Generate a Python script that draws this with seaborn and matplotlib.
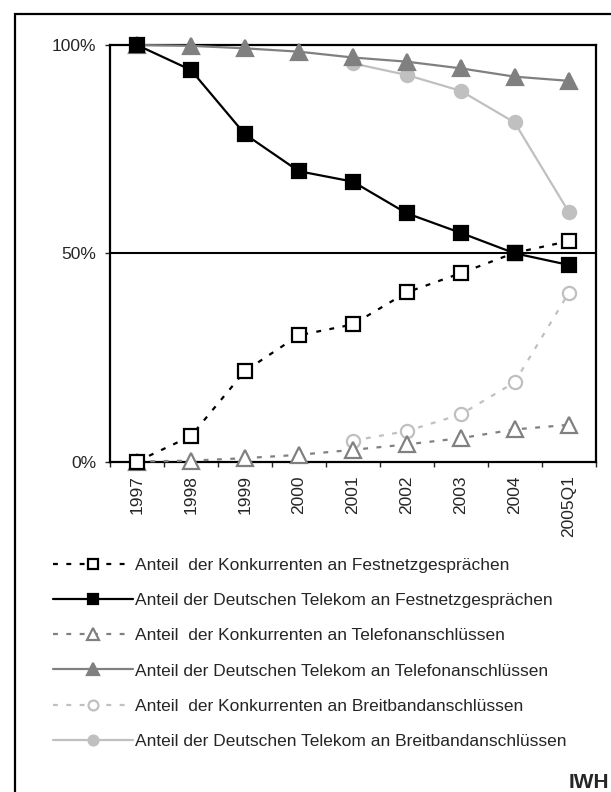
import numpy as np
import pandas as pd
import matplotlib
matplotlib.use('Agg')
import matplotlib.pyplot as plt
import seaborn as sns
from matplotlib.patches import Rectangle
from matplotlib.lines import Line2D

jahre = ['1997', '1998', '1999', '2000', '2001', '2002', '2003', '2004', '2005Q1']

konk_festnetz = [0, 6.1, 21.7, 30.3, 32.9, 40.6, 45.2, 50.1, 52.9]
dt_festnetz = [100, 94.0, 78.6, 69.7, 67.2, 59.6, 54.9, 50.0, 47.2]
konk_telefon = [0, 0.2, 0.8, 1.6, 2.8, 4.1, 5.6, 7.7, 8.8]
dt_telefon = [100, 99.8, 99.2, 98.4, 97.0, 96.0, 94.4, 92.4, 91.4]
konk_breitband = [np.nan, np.nan, np.nan, np.nan, 5.0, 7.3, 11.3, 19.0, 40.4]
dt_breitband = [np.nan, np.nan, np.nan, np.nan, 95.6, 92.8, 89.0, 81.4, 60.0]

labels = [
    'Anteil  der Konkurrenten an Festnetzgesprächen',
    'Anteil der Deutschen Telekom an Festnetzgesprächen',
    'Anteil  der Konkurrenten an Telefonanschlüssen',
    'Anteil der Deutschen Telekom an Telefonanschlüssen',
    'Anteil  der Konkurrenten an Breitbandanschlüssen',
    'Anteil der Deutschen Telekom an Breitbandanschlüssen',
]

sns.set_style('white')
plt.rcParams['font.family'] = ['Liberation Sans', 'DejaVu Sans']

W, H = 611, 792
fig = plt.figure(figsize=(W / 100, H / 100), dpi=100)
ax = fig.add_axes([110 / W, 1 - 461.5 / H, 485.5 / W, 416.5 / H])

pos = np.arange(len(jahre))
df = pd.DataFrame({'pos': pos})

gestrichelt = (0, (2.2, 3.8))
# werte, farbe, marker, fuellung, linie, markergroesse
serien = [
    (konk_festnetz, 'black', 's', 'white', gestrichelt, 9.5),
    (dt_festnetz, 'black', 's', 'black', '-', 9.5),
    (konk_telefon, '#808080', '^', 'white', gestrichelt, 11),
    (dt_telefon, '#808080', '^', '#808080', '-', 11),
    (konk_breitband, '#c0c0c0', 'o', 'white', gestrichelt, 9.5),
    (dt_breitband, '#c0c0c0', 'o', '#c0c0c0', '-', 9.5),
]
# hinten nach vorne zeichnen
for i in [5, 4, 3, 2, 0, 1]:
    werte, farbe, marker, fc, ls, ms = serien[i]
    df['wert'] = werte
    sns.lineplot(data=df, x='pos', y='wert', ax=ax, color=farbe, marker=marker,
                 markersize=ms, markerfacecolor=fc, markeredgecolor=farbe,
                 markeredgewidth=1.6, linestyle=ls, linewidth=1.6,
                 legend=False, clip_on=False, zorder=3)

ax.axhline(50, color='black', linewidth=1.5, zorder=2)

ax.set_xlim(-0.5, len(jahre) - 0.5)
ax.set_ylim(0, 100)
ax.set_xticks(pos)
ax.set_xticklabels(jahre, rotation=90, fontsize=12.5)
ax.set_xticks(np.arange(len(jahre) + 1) - 0.5, minor=True)
ax.tick_params(axis='x', which='major', length=0, pad=10)
ax.tick_params(axis='x', which='minor', length=3.5, width=1, direction='out', bottom=True)
ax.set_yticks([0, 50, 100])
ax.set_yticklabels(['0%', '50%', '100%'], fontsize=12.5)
ax.tick_params(axis='y', length=3.5, width=1, direction='out', left=True, pad=6.5)
ax.set_xlabel('')
ax.set_ylabel('')
for s in ax.spines.values():
    s.set_color('black')
    s.set_linewidth(1.6)

leg_handles = []
for werte, farbe, marker, fc, ls, ms in serien:
    leg_handles.append(Line2D([], [], color=farbe, linestyle=ls, linewidth=1.6,
                              marker=marker, markersize=ms * 0.75,
                              markerfacecolor=fc, markeredgecolor=farbe,
                              markeredgewidth=1.6))
fig.legend(leg_handles, labels, loc='upper left', bbox_to_anchor=(53 / W, 1 - 558 / H),
           frameon=False, fontsize=12.5, handlelength=4.6, handletextpad=0.1,
           labelspacing=1.15, borderpad=0, borderaxespad=0)

fig.text(609 / W, 1 - 783 / H, 'IWH', ha='right', va='center', fontsize=15, fontweight='bold')

fig.patches.append(Rectangle((15 / W, -0.05), 1.0, 1.05 - 14 / H, transform=fig.transFigure,
                             fill=False, edgecolor='black', linewidth=1.6, clip_on=False))

fig.savefig('out.png', dpi=100)
